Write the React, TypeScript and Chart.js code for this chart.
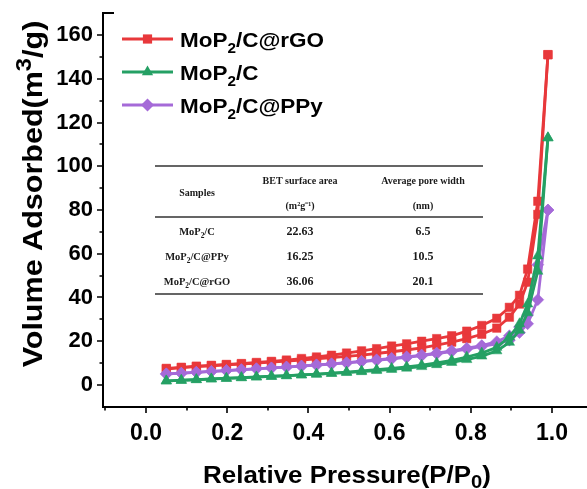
import React, { useEffect, useRef } from 'react';
import { Chart, registerables } from 'chart.js';

Chart.register(...registerables);

// ---------- data ----------
const adsP = [0.05, 0.087, 0.124, 0.161, 0.198, 0.235, 0.272, 0.309, 0.346, 0.383, 0.42, 0.457, 0.494, 0.531, 0.568, 0.605, 0.642, 0.679, 0.716, 0.753, 0.79, 0.827, 0.864, 0.895, 0.92, 0.94, 0.965, 0.99];
const desP = [0.99, 0.965, 0.94, 0.92, 0.895, 0.864, 0.827, 0.79, 0.753, 0.716, 0.679, 0.642, 0.605, 0.568, 0.531, 0.494, 0.457, 0.42, 0.383, 0.346, 0.309, 0.272, 0.235, 0.198, 0.161, 0.124, 0.087, 0.05];

const rgoAds = [7.3, 7.9, 8.4, 8.8, 9.2, 9.6, 10.0, 10.5, 10.9, 11.4, 11.9, 12.5, 13.1, 13.7, 14.4, 15.2, 16.0, 17.0, 18.2, 19.6, 21.2, 23.2, 26.0, 31.0, 37.0, 47.0, 78.0, 151.0];
const rgoDes = [151.0, 84.0, 53.0, 41.0, 35.5, 30.5, 27.2, 24.6, 22.5, 21.2, 20.0, 18.8, 17.8, 16.6, 15.6, 14.6, 13.6, 12.8, 12.1, 11.4, 10.8, 10.3, 9.8, 9.4, 9.0, 8.6, 8.1, 7.6];

const cAds = [1.8, 2.2, 2.5, 2.8, 3.1, 3.4, 3.7, 4.0, 4.3, 4.6, 4.9, 5.3, 5.7, 6.1, 6.6, 7.1, 7.7, 8.4, 9.3, 10.3, 11.6, 13.2, 15.6, 19.5, 25.0, 33.0, 52.0, 113.0];
const cDes = [113.0, 59.0, 37.0, 28.0, 22.0, 17.2, 14.6, 12.8, 11.3, 10.1, 9.1, 8.3, 7.6, 7.0, 6.4, 5.9, 5.4, 5.0, 4.6, 4.2, 3.9, 3.6, 3.3, 3.0, 2.7, 2.4, 2.1, 1.9];

const ppyAds = [5.0, 5.4, 5.8, 6.2, 6.6, 7.0, 7.4, 7.8, 8.2, 8.6, 9.1, 9.6, 10.1, 10.7, 11.3, 11.9, 12.6, 13.4, 14.3, 15.3, 16.4, 17.6, 18.8, 20.5, 24.0, 28.0, 39.0, 80.0];
const ppyDes = [80.0, 55.0, 32.0, 26.5, 22.5, 19.8, 18.0, 16.8, 15.6, 14.6, 13.7, 12.9, 12.2, 11.5, 10.8, 10.2, 9.7, 9.2, 8.7, 8.2, 7.8, 7.4, 7.0, 6.6, 6.2, 5.8, 5.4, 5.1];

const seriesNames = ['MoP2/C@rGO', 'MoP2/C', 'MoP2/C@PPy'];
const seriesColors = ['#e8383b', '#25a064', '#a56ad8'];
const seriesMarkers = ['rect', 'triangle', 'rectRot'];

const xTicks = [0, 0.2, 0.4, 0.6, 0.8, 1.0];
const xMinorTicks = [-0.1, 0.1, 0.3, 0.5, 0.7, 0.9];
const yTicks = [0, 20, 40, 60, 80, 100, 120, 140, 160];
const yMinorTicks = [10, 30, 50, 70, 90, 110, 130, 150];

const tableHeaders = ['Samples', 'BET surface area', 'Average pore width'];
const tableUnits = ['', '(m²g⁻¹)', '(nm)'];
const tableSamples = ['MoP2/C', 'MoP2/C@PPy', 'MoP2/C@rGO'];
const tableBET = ['22.63', '16.25', '36.06'];
const tablePore = ['6.5', '10.5', '20.1'];

// ---------- helpers ----------
type Seg = { t: string; k?: 'sub' | 'sup' };

function chem(name: string): Seg[] {
  const i = name.indexOf('P2');
  if (i < 0) return [{ t: name }];
  return [{ t: name.slice(0, i + 1) }, { t: '2', k: 'sub' }, { t: name.slice(i + 2) }];
}

function richWidth(ctx: CanvasRenderingContext2D, segs: Seg[], size: number, family: string, weight: string, scale: number) {
  let w = 0;
  for (const s of segs) {
    const fs = s.k ? size * scale : size;
    ctx.font = `${weight} ${fs}px ${family}`;
    w += ctx.measureText(s.t).width;
  }
  return w;
}

function drawRich(
  ctx: CanvasRenderingContext2D,
  segs: Seg[],
  x: number,
  y: number,
  size: number,
  family: string,
  weight: string,
  align: 'left' | 'center',
  color: string,
  scale = 0.7,
  subDy = 0.3,
  supDy = 0.45,
  stretch = 1
) {
  ctx.save();
  ctx.fillStyle = color;
  ctx.textBaseline = 'alphabetic';
  ctx.textAlign = 'left';
  ctx.translate(x, y);
  ctx.scale(stretch, 1);
  const w = richWidth(ctx, segs, size, family, weight, scale);
  let cx = align === 'center' ? -w / 2 : 0;
  for (const s of segs) {
    const fs = s.k ? size * scale : size;
    ctx.font = `${weight} ${fs}px ${family}`;
    const dy = s.k === 'sub' ? size * subDy : s.k === 'sup' ? -size * supDy : 0;
    ctx.fillText(s.t, cx, dy);
    cx += ctx.measureText(s.t).width;
  }
  ctx.restore();
}

function drawMarker(ctx: CanvasRenderingContext2D, kind: string, x: number, y: number, r: number, color: string) {
  ctx.save();
  ctx.fillStyle = color;
  ctx.beginPath();
  if (kind === 'rect') {
    const s = r * Math.SQRT1_2;
    ctx.rect(x - s, y - s, 2 * s, 2 * s);
  } else if (kind === 'triangle') {
    ctx.moveTo(x, y - r);
    ctx.lineTo(x + r * 0.866, y + r * 0.5);
    ctx.lineTo(x - r * 0.866, y + r * 0.5);
    ctx.closePath();
  } else {
    ctx.moveTo(x, y - r);
    ctx.lineTo(x + r, y);
    ctx.lineTo(x, y + r);
    ctx.lineTo(x - r, y);
    ctx.closePath();
  }
  ctx.fill();
  ctx.restore();
}

const SANS = '"Liberation Sans", Arial, sans-serif';
const SERIF = '"Liberation Serif", "Times New Roman", serif';

const decorPlugin = {
  id: 'decor',
  afterDraw(chart: any) {
    const ctx: CanvasRenderingContext2D = chart.ctx;
    const xs = chart.scales.x;
    const ys = chart.scales.y;
    const { left, right, top, bottom } = chart.chartArea;

    // axes
    ctx.save();
    ctx.strokeStyle = '#000';
    ctx.lineWidth = 2;
    ctx.beginPath();
    ctx.moveTo(left + 11, top);
    ctx.lineTo(left, top);
    ctx.lineTo(left, bottom);
    ctx.lineTo(right, bottom);
    ctx.stroke();
    ctx.lineWidth = 1.6;
    ctx.beginPath();
    for (const v of xTicks) {
      const px = Math.round(xs.getPixelForValue(v));
      ctx.moveTo(px, bottom);
      ctx.lineTo(px, bottom + 6);
    }
    for (const v of xMinorTicks) {
      const px = Math.round(xs.getPixelForValue(v));
      ctx.moveTo(px, bottom);
      ctx.lineTo(px, bottom + 3.5);
    }
    for (const v of yTicks) {
      const py = Math.round(ys.getPixelForValue(v));
      ctx.moveTo(left, py);
      ctx.lineTo(left - 6, py);
    }
    for (const v of yMinorTicks) {
      const py = Math.round(ys.getPixelForValue(v));
      ctx.moveTo(left, py);
      ctx.lineTo(left - 3.5, py);
    }
    ctx.stroke();
    ctx.restore();

    // axis titles
    drawRich(ctx, [{ t: 'Relative Pressure(P/P' }, { t: '0', k: 'sub' }, { t: ')' }], 347, 483, 24, SANS, 'bold', 'center', '#000', 0.78, 0.2, 0.45, 1.08);
    ctx.save();
    ctx.translate(42, 194);
    ctx.rotate(-Math.PI / 2);
    drawRich(ctx, [{ t: 'Volume Adsorbed(m' }, { t: '3', k: 'sup' }, { t: '/g)' }], 0, 0, 28, SANS, 'bold', 'center', '#000', 0.78, 0.3, 0.4, 1.09);
    ctx.restore();

    // legend
    const legendY = [39, 72, 105];
    seriesNames.forEach((name, i) => {
      const y = legendY[i];
      ctx.save();
      ctx.strokeStyle = seriesColors[i];
      ctx.lineWidth = 2.8;
      ctx.beginPath();
      ctx.moveTo(122, y);
      ctx.lineTo(173, y);
      ctx.stroke();
      ctx.restore();
      drawMarker(ctx, seriesMarkers[i], 147.5, y, 6.5, seriesColors[i]);
      drawRich(ctx, chem(name), 180, y + 7.5, 21, SANS, 'bold', 'left', '#000', 0.68, 0.32, 0.45, 1.07);
    });

    // table
    ctx.save();
    ctx.strokeStyle = '#333';
    ctx.lineWidth = 1.3;
    ctx.beginPath();
    for (const ly of [166, 217, 294]) {
      ctx.moveTo(155, ly);
      ctx.lineTo(483, ly);
    }
    ctx.stroke();
    ctx.restore();
    const colX = [197, 300, 423];
    const tc = '#1a1a1a';
    drawRich(ctx, [{ t: tableHeaders[0] }], colX[0], 196, 10, SERIF, 'bold', 'center', tc);
    drawRich(ctx, [{ t: tableHeaders[1] }], colX[1], 184, 10, SERIF, 'bold', 'center', tc);
    drawRich(ctx, [{ t: tableHeaders[2] }], colX[2], 184, 10, SERIF, 'bold', 'center', tc);
    drawRich(ctx, [{ t: tableUnits[1] }], colX[1], 209, 10, SERIF, 'bold', 'center', tc);
    drawRich(ctx, [{ t: tableUnits[2] }], colX[2], 209, 10, SERIF, 'bold', 'center', tc);
    const rowY = [235, 260, 285];
    tableSamples.forEach((s, i) => {
      drawRich(ctx, chem(s), colX[0], rowY[i], 10.5, SERIF, 'bold', 'center', tc, 0.7, 0.25);
      drawRich(ctx, [{ t: tableBET[i] }], colX[1], rowY[i], 12, SERIF, 'bold', 'center', tc);
      drawRich(ctx, [{ t: tablePore[i] }], colX[2], rowY[i], 12, SERIF, 'bold', 'center', tc);
    });
  },
};

function makeSet(p: number[], v: number[], i: number) {
  return {
    data: p.map((x, k) => ({ x, y: v[k] })),
    borderColor: seriesColors[i],
    backgroundColor: seriesColors[i],
    pointBackgroundColor: seriesColors[i],
    pointBorderColor: seriesColors[i],
    pointStyle: seriesMarkers[i],
    pointRadius: 6,
    pointBorderWidth: 0.5,
    borderWidth: 2.8,
    showLine: true,
    tension: 0,
  };
}

export default function App() {
  const ref = useRef<HTMLCanvasElement | null>(null);
  useEffect(() => {
    if (!ref.current) return;
    const datasets = [
      makeSet(adsP, cAds, 1),
      makeSet(desP, cDes, 1),
      makeSet(adsP, ppyAds, 2),
      makeSet(desP, ppyDes, 2),
      makeSet(adsP, rgoAds, 0),
      makeSet(desP, rgoDes, 0),
    ];
    const chart = new Chart(ref.current, {
      type: 'scatter',
      data: { datasets },
      plugins: [decorPlugin],
      options: {
        animation: false,
        responsive: false,
        maintainAspectRatio: false,
        layout: { autoPadding: false, padding: { left: 0, right: 0, top: 13, bottom: 0 } },
        plugins: { legend: { display: false }, tooltip: { enabled: false } },
        scales: {
          x: {
            type: 'linear',
            min: -0.1059,
            max: 1.0862,
            grid: { display: false, drawTicks: false },
            border: { display: false },
            afterBuildTicks: (s: any) => {
              s.ticks = xTicks.map((v) => ({ value: v }));
            },
            afterFit: (s: any) => {
              s.height = 82;
              s.paddingLeft = 0;
              s.paddingRight = 0;
            },
            ticks: {
              font: { family: SANS, size: 23, weight: 'bold' },
              color: '#000',
              padding: 13,
              maxRotation: 0,
              autoSkip: false,
              callback: (v: any) => Number(v).toFixed(1),
            },
          },
          y: {
            type: 'linear',
            min: -10.06,
            max: 170.06,
            grid: { display: false, drawTicks: false },
            border: { display: false },
            afterBuildTicks: (s: any) => {
              s.ticks = yTicks.map((v) => ({ value: v }));
            },
            afterFit: (s: any) => {
              s.width = 103;
              s.paddingTop = 0;
              s.paddingBottom = 0;
            },
            ticks: {
              font: { family: SANS, size: 22, weight: 'bold' },
              color: '#000',
              padding: 10,
              autoSkip: false,
              callback: (v: any) => String(v),
            },
          },
        },
      },
    });
    return () => chart.destroy();
  }, []);
  return (
    <div style={{ position: 'fixed', left: 0, top: 0, width: 587, height: 489, background: '#fff' }}>
      <canvas ref={ref} width={587} height={489} style={{ width: 587, height: 489, display: 'block' }} />
    </div>
  );
}
